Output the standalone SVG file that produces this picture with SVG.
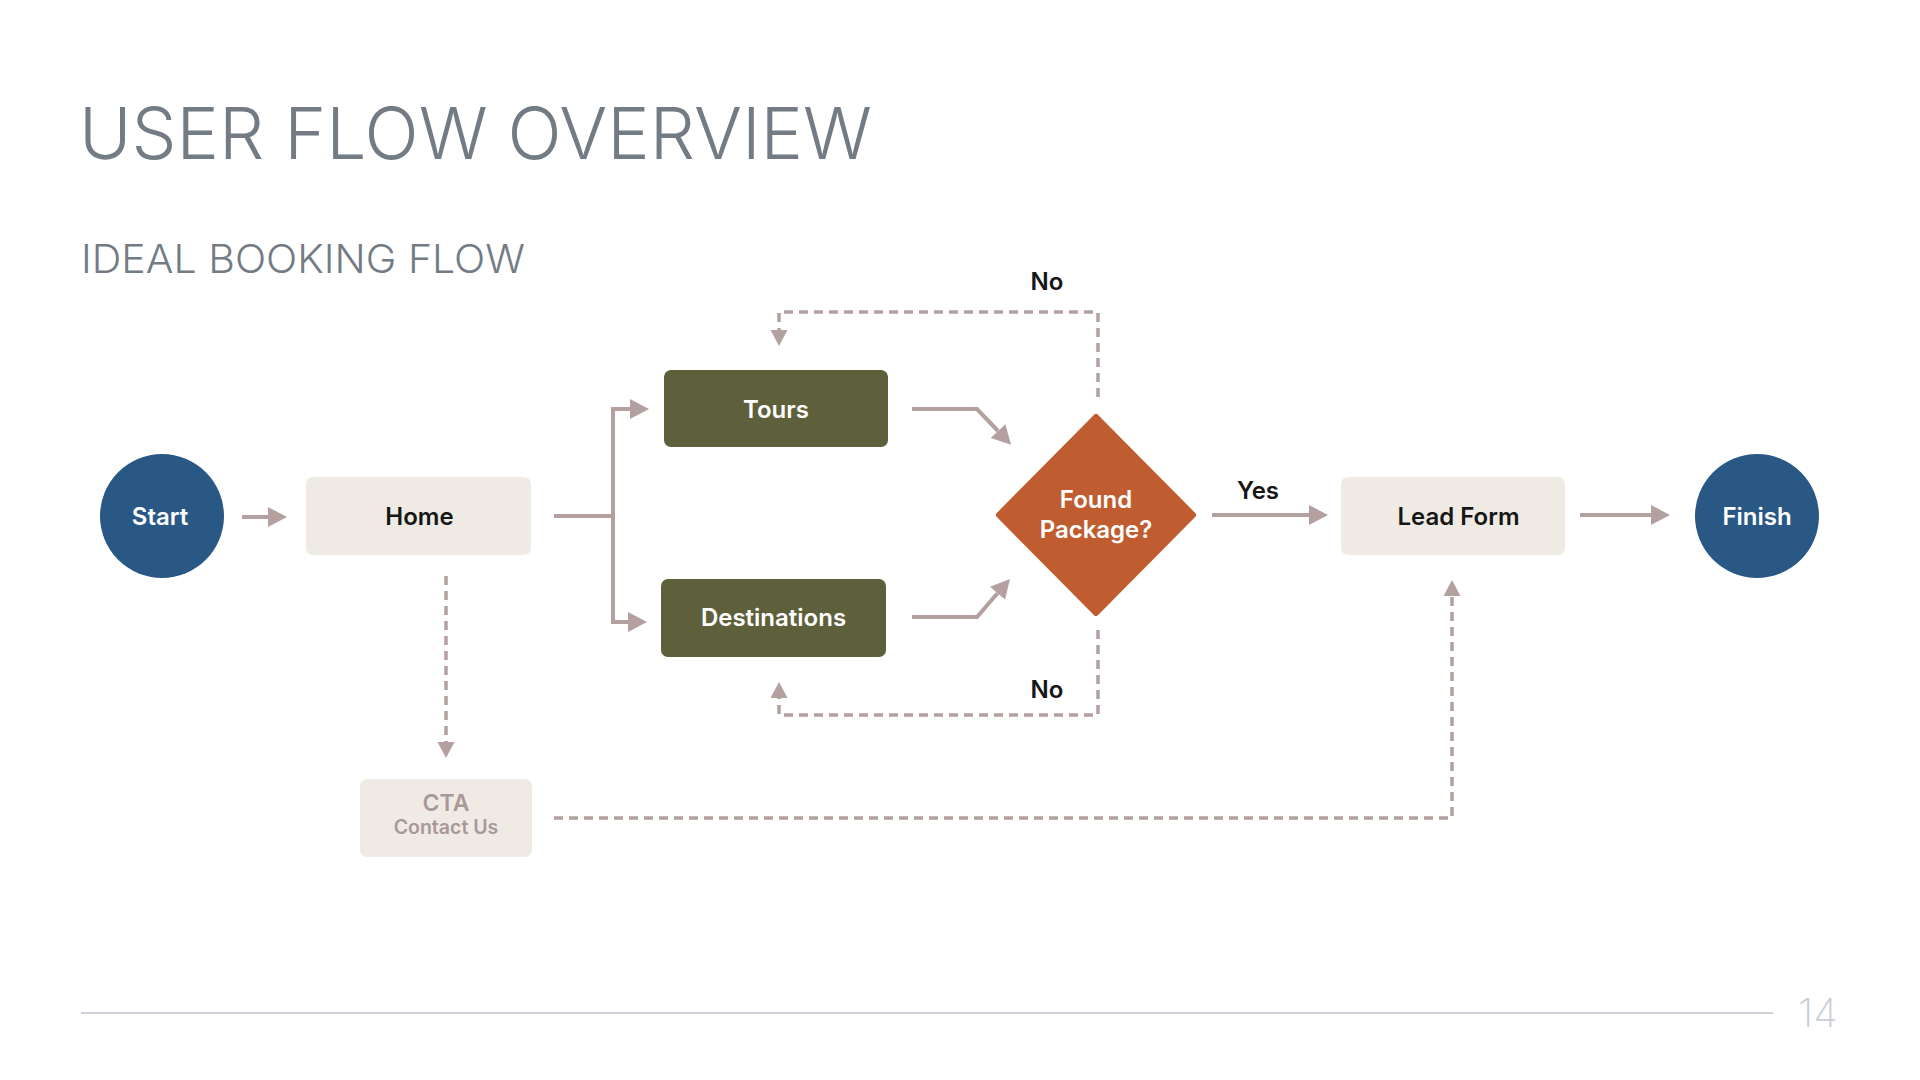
<svg xmlns="http://www.w3.org/2000/svg" width="1920" height="1080" viewBox="0 0 1920 1080">
<defs>
<style>
text{font-family:Inter,"Liberation Sans",sans-serif;}
.lbl{font-size:24px;font-weight:600;text-anchor:middle;}
.dark{fill:#161616;}
.white{fill:#ffffff;}
.solid{fill:none;stroke:#b3a09f;stroke-width:4;stroke-linejoin:miter;}
.dash{fill:none;stroke:#b3a09f;stroke-width:3.5;stroke-dasharray:9 6;}
.beige{fill:#efebe4;}
.olive{fill:#5e5f3b;}
.navy{fill:#2a5885;}
</style>
<marker id="ah" markerUnits="userSpaceOnUse" markerWidth="20" markerHeight="22" refX="0" refY="10" orient="auto">
<path d="M0,0 L19,10 L0,20 z" fill="#b3a09f"/>
</marker>
<marker id="ahd" markerUnits="userSpaceOnUse" markerWidth="18" markerHeight="18" refX="0" refY="8.5" orient="auto">
<path d="M0,0 L16,8.5 L0,17 z" fill="#b3a09f"/>
</marker>
</defs>
<rect width="1920" height="1080" fill="#ffffff"/>

<text x="79" y="159" font-size="72" font-weight="300" fill="#737b84" textLength="793" lengthAdjust="spacingAndGlyphs">USER FLOW OVERVIEW</text>
<text x="81" y="273" font-size="40" font-weight="300" fill="#737b84" textLength="444" lengthAdjust="spacingAndGlyphs">IDEAL BOOKING FLOW</text>

<g id="connectors">
<path class="solid" d="M242,517 H268" marker-end="url(#ah)"/>
<path class="solid" d="M554,516 H613"/>
<path class="solid" d="M613,516 V409 H630" marker-end="url(#ah)"/>
<path class="solid" d="M613,516 V622 H628" marker-end="url(#ah)"/>
<path class="solid" d="M912,409 H977 L998,431" marker-end="url(#ah)"/>
<path class="solid" d="M912,617 H977 L997.5,593.3" marker-end="url(#ah)"/>
<path class="solid" d="M1212,515 H1309" marker-end="url(#ah)"/>
<path class="solid" d="M1580,515 H1651" marker-end="url(#ah)"/>
<path class="dash" d="M446,576 V742" marker-end="url(#ahd)"/>
<path class="dash" d="M1098,397 V312 H779 V330" marker-end="url(#ahd)"/>
<path class="dash" d="M1098,630 V715 H779 V698" marker-end="url(#ahd)"/>
<path class="dash" d="M554,818 H1452 V596" marker-end="url(#ahd)"/>
<text class="lbl dark" x="1047" y="290">No</text>
<text class="lbl dark" x="1258" y="499">Yes</text>
<text class="lbl dark" x="1047" y="698">No</text>
</g>

<g id="start">
<circle class="navy" cx="162" cy="516" r="62"/>
<text class="lbl white" x="160" y="525">Start</text>
</g>
<g id="home">
<rect class="beige" x="306" y="477" width="225" height="78" rx="7"/>
<text class="lbl dark" x="419.5" y="525">Home</text>
</g>
<g id="tours">
<rect class="olive" x="664" y="370" width="224" height="77" rx="7"/>
<text class="lbl white" x="776" y="418">Tours</text>
</g>
<g id="destinations">
<rect class="olive" x="661" y="579" width="225" height="78" rx="7"/>
<text class="lbl white" x="773.5" y="626">Destinations</text>
</g>
<g id="found-package">
<polygon points="1096,417 1193,515 1096,613 999,515" fill="#c05d30" stroke="#c05d30" stroke-width="6" stroke-linejoin="round"/>
<text class="lbl white" x="1096" y="508">Found</text>
<text class="lbl white" x="1096" y="538">Package?</text>
</g>
<g id="lead-form">
<rect class="beige" x="1341" y="477" width="224" height="78" rx="7"/>
<text class="lbl dark" x="1458.5" y="525">Lead Form</text>
</g>
<g id="finish">
<circle class="navy" cx="1757" cy="516" r="62"/>
<text class="lbl white" x="1757" y="525">Finish</text>
</g>
<g id="cta">
<rect class="beige" x="360" y="779" width="172" height="78" rx="7"/>
<text x="446" y="811" font-size="23" font-weight="600" text-anchor="middle" fill="#a8989a">CTA</text>
<text x="446" y="834" font-size="19.5" font-weight="600" text-anchor="middle" fill="#a8989a">Contact Us</text>
</g>

<path d="M81,1013 H1773" stroke="#cfd3d9" stroke-width="2"/>
<text x="1798" y="1027" font-size="40" font-weight="200" fill="#c9cdd3">14</text>
</svg>
